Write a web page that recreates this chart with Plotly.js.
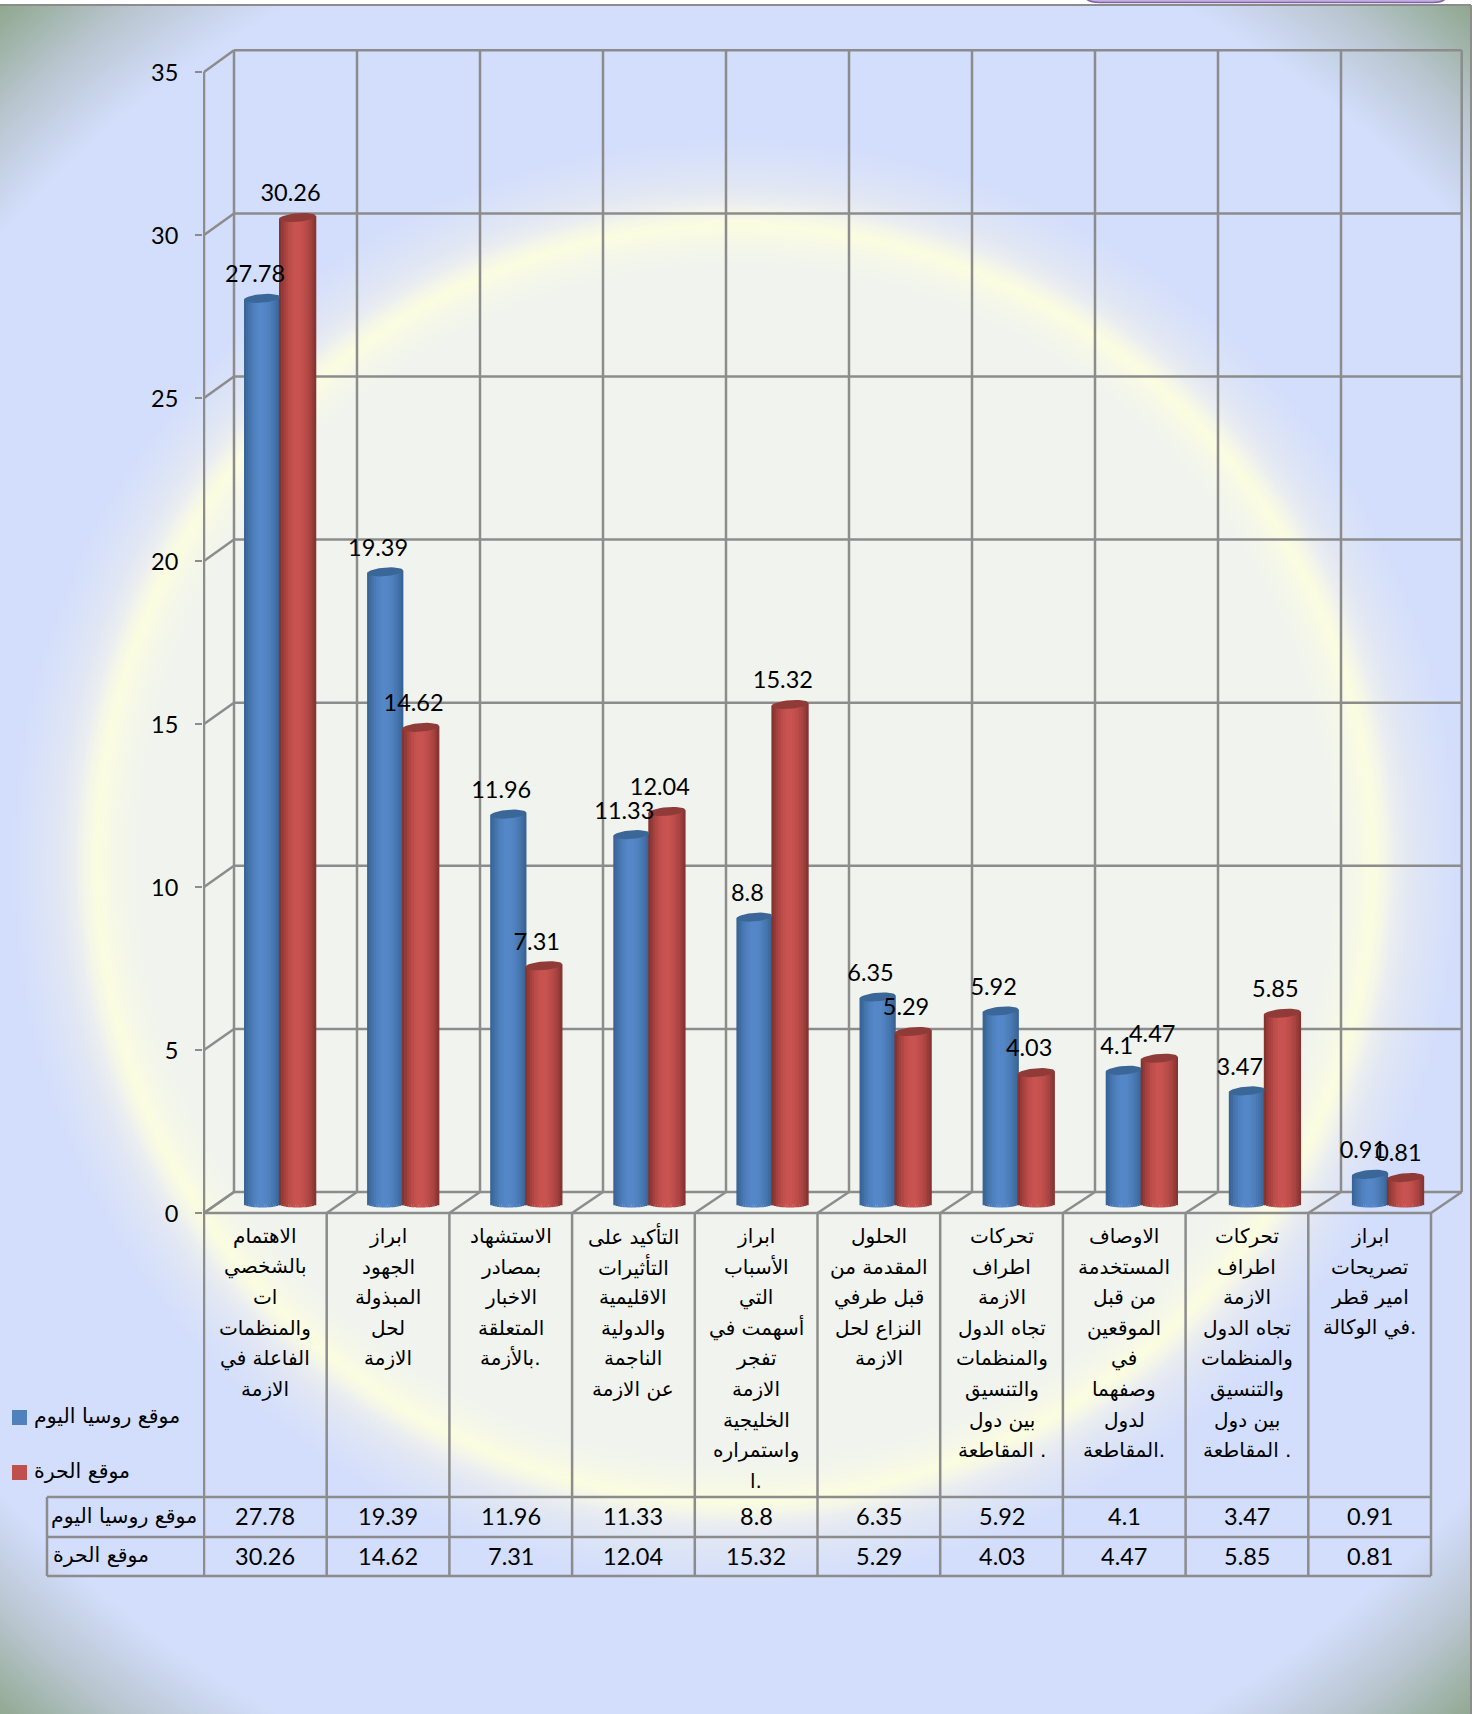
<!DOCTYPE html>
<html><head><meta charset="utf-8">
<script src="https://cdn.plot.ly/plotly-3.0.1.min.js"></script>
<style>
html,body{margin:0;padding:0;background:#fff;width:1472px;height:1714px;overflow:hidden}
#bg{position:absolute;left:0;top:5px;width:1470px;height:1709px;
background:radial-gradient(circle 1135px at 735px 858px,#f1f4ee 0,#f1f4ee 598px,#f5f7e9 620px,#fbfde0 638px,#f4f6e8 650px,#ebeef0 660px,#e2e7f3 675px,#d9e2f8 700px,#d3defc 725px,#d3defc 965px,#b9c6d0 1045px,#8fa78e 1130px)}
#chart{position:absolute;left:0;top:0;width:1472px;height:1714px}
</style></head><body><div id="bg"></div><div id="chart"></div>
<script>
const seriesNames=["موقع روسيا اليوم","موقع الحرة"];
const russiaToday=[27.78,19.39,11.96,11.33,8.8,6.35,5.92,4.1,3.47,0.91];
const alhurra=[30.26,14.62,7.31,12.04,15.32,5.29,4.03,4.47,5.85,0.81];
const categoryLines=[
["الاهتمام","بالشخصي","ات","والمنظمات","الفاعلة في","الازمة"],
["ابراز","الجهود","المبذولة","لحل","الازمة"],
["الاستشهاد","بمصادر","الاخبار","المتعلقة","بالأزمة."],
["التأكيد على","التأثيرات","الاقليمية","والدولية","الناجمة","عن الازمة"],
["ابراز","الأسباب","التي","أسهمت في","تفجر","الازمة","الخليجية","واستمراره","ا."],
["الحلول","المقدمة من","قبل طرفي","النزاع لحل","الازمة"],
["تحركات","اطراف","الازمة","تجاه الدول","والمنظمات","والتنسيق","بين دول","المقاطعة ."],
["الاوصاف","المستخدمة","من قبل","الموقعين","في","وصفهما","لدول","المقاطعة."],
["تحركات","اطراف","الازمة","تجاه الدول","والمنظمات","والتنسيق","بين دول","المقاطعة ."],
["ابراز","تصريحات","امير قطر","في الوكالة."]
];
const yTicks=[0,5,10,15,20,25,30,35];

const W=1472,H=1714,L=203,R=1464,T=48,B=1216;
const stepX=122.7,stepY=32.6,x0=265.35,y0=1213;
const xr=[(L-x0)/stepX,(R-x0)/stepX], yr=[(y0-B)/stepY,(y0-T)/stepY];
const pyP=p=>(B-p)/(B-T), pxP=p=>(p-L)/(R-L);
const idx=russiaToday.map((_,i)=>i);
const GRID='#8c8c8c';

// the perspective planes of the 3D frame, expressed in axis units
const backX=k=>((k<10?234+123*k:1461.7)-x0)/stepX;
const backY=v=>v*32.62/stepY+21/stepY;
const barX=i=>(280+123.1*i-x0)/stepX;
const barDY=9/stepY;

function hex(c){return [1,3,5].map(i=>parseInt(c.substr(i,2),16));}
function shade(st,u){
  const t=(u+1)/2*(st.length-1),i=Math.min(Math.floor(t),st.length-2),f=t-i;
  const a=hex(st[i]),b=hex(st[i+1]);
  return 'rgb('+a.map((v,n)=>Math.round(v+(b[n]-v)*f)).join(',')+')';
}
const specs=[
 {vals:russiaToday,name:seriesNames[0],base:'#4f81bd',cap:'#3a6797',cx:-18/stepX,w:36/stepX,
  stops:['#36608f','#4472a9','#4f80bf','#5488c9','#5587c8','#4e7fbc','#4473aa','#36608f']},
 {vals:alhurra,name:seriesNames[1],base:'#c0504d',cap:'#913b39',cx:17.5/stepX,w:37/stepX,
  stops:['#7c2f2d','#a13f3c','#bc4c49','#c95350','#c85351','#ba4c49','#a5423f','#7f302e']}
];
const N=16,traces=[];
specs.forEach(s=>{
  traces.push({type:'bar',name:s.name,x:idx.map(barX),y:s.vals,base:idx.map(()=>barDY),
    width:s.w*0.96,offset:s.cx-s.w*0.48,marker:{color:s.base,line:{width:0}},
    showlegend:false,hoverinfo:'skip',cliponaxis:false});
});
specs.forEach(s=>{
  for(let j=0;j<N;j++){
    const uL=-1+2*j/N,uR=uL+2/N,u=(uL+uR)/2;
    const curve=Math.sqrt(Math.max(0,1-u*u))*(3.5/stepY);
    const tilt=u*(1.5/stepY);
    traces.push({type:'bar',x:idx.map(barX),
      base:s.vals.map(()=>barDY-curve),
      y:s.vals.map(v=>v+curve+tilt),
      width:(s.w/N)*1.12,offset:s.cx+s.w/2*uL,
      marker:{color:shade(s.stops,u),line:{width:0}},
      showlegend:false,hoverinfo:'skip',cliponaxis:false});
  }
});
specs.forEach(s=>{
  const cx=[],cy=[];
  s.vals.forEach((v,i)=>{
    for(let a=0;a<=36;a++){
      const th=a/36*2*Math.PI,c=Math.cos(th),sn=Math.sin(th);
      cx.push(barX(i)+s.cx+c*s.w/2);
      cy.push(v+barDY+sn*(4.3/stepY)+c*(1.5/stepY));
    }
    cx.push(null);cy.push(null);
  });
  traces.push({type:'scatter',mode:'lines',x:cx,y:cy,fill:'toself',fillcolor:s.cap,line:{width:0,color:s.cap},
    showlegend:false,hoverinfo:'skip'});
});
specs.forEach(s=>{
  traces.push({type:'scatter',mode:'text',x:idx.map(i=>barX(i)+s.cx-7/stepX),
    y:s.vals.map(v=>v+barDY+22/stepY),text:s.vals.map(String),textposition:'middle center',
    textfont:{family:'Lato',size:23.5,color:'#000'},showlegend:false,hoverinfo:'skip',cliponaxis:false});
});

const shapes=[];
const ln=(x0,y0,x1,y1,xref,yref,w)=>shapes.push({type:'line',x0,y0,x1,y1,xref:xref||'x',yref:yref||'y',
  line:{color:GRID,width:w||2.5},layer:'below'});
const eL=-0.5,eR=9.5;
yTicks.forEach(v=>{
  ln(backX(0),backY(v),backX(10),backY(v));
  ln(eL,v,backX(0),backY(v));
});
for(let k=0;k<=10;k++){
  const e=eL+k;
  ln(backX(k),backY(0),backX(k),backY(35));
  ln(e,0,backX(k),backY(0));
  ln(e,pyP(1213),e,pyP(1576),'x','paper');
}
ln(eL,0,eL,35);
ln(eL,0,eR,0);
[1497,1537,1576].forEach(p=>ln(pxP(47),pyP(p),pxP(1431),pyP(p),'paper','paper'));
ln(pxP(47),pyP(1497),pxP(47),pyP(1576),'paper','paper');
// outer frame of the sheet
ln(pxP(0),pyP(5),pxP(1471),pyP(5),'paper','paper',2);
ln(pxP(1471),pyP(5),pxP(1471),pyP(1714),'paper','paper',2);
// purple box cut off at the top of the sheet
const P=(x,y)=>pxP(x)+','+pyP(y);
shapes.push({type:'path',xref:'paper',yref:'paper',
  path:'M'+P(1084,-4)+' Q'+P(1087,2.5)+' '+P(1100,2.5)+' L'+P(1433,2.5)+' Q'+P(1445,2.5)+' '+P(1447,-4)+' Z',
  fillcolor:'#c3aee0',line:{color:'#7f63a8',width:1.5},layer:'above'});
// legend swatches
specs.forEach((s,i)=>{
  const top=[1410,1465][i];
  shapes.push({type:'rect',xref:'paper',yref:'paper',x0:pxP(12),x1:pxP(27),y0:pyP(top),y1:pyP(top+15),
    fillcolor:s.base,line:{width:0},layer:'above'});
});

const ann=[];
const txt=(text,x,p,xref,opt)=>ann.push(Object.assign({text,x,y:pyP(p),xref:xref||'x',yref:'paper',showarrow:false,
  xanchor:'center',yanchor:'middle',font:{family:'DejaVu Sans',size:20,color:'#000'}},opt||{}));
categoryLines.forEach((lines,k)=>lines.forEach((t,r)=>txt(t,k,1236+r*30.6)));
const num={font:{family:'Lato',size:23.5,color:'#000'}};
idx.forEach(k=>{txt(String(russiaToday[k]),k,1516,'x',num);txt(String(alhurra[k]),k,1556,'x',num);});
const big={font:{family:'DejaVu Sans',size:20.5,color:'#000'}};
txt(seriesNames[0],pxP(124),1516,'paper',big);
txt(seriesNames[1],pxP(51),1555,'paper',Object.assign({xanchor:'left'},big));
txt(seriesNames[0],pxP(32),1416,'paper',Object.assign({xanchor:'left'},big));
txt(seriesNames[1],pxP(32),1471,'paper',Object.assign({xanchor:'left'},big));

Plotly.newPlot('chart',traces,{
  width:W,height:H,showlegend:false,barmode:'overlay',
  paper_bgcolor:'rgba(0,0,0,0)',plot_bgcolor:'rgba(0,0,0,0)',
  margin:{l:L,r:W-R,t:T,b:H-B,pad:0,autoexpand:false},
  xaxis:{range:xr,showgrid:false,zeroline:false,showline:false,showticklabels:false,ticks:''},
  yaxis:{range:yr,tickvals:yTicks,ticktext:yTicks.map(String),ticks:'outside',ticklen:7,tickcolor:GRID,tickwidth:2.5,
    showgrid:false,zeroline:false,showline:false,ticklabelstandoff:12,ticklabelshift:1,tickfont:{family:'Lato',size:23.5,color:'#000'}},
  shapes,annotations:ann
},{displayModeBar:false,staticPlot:true});
</script></body></html>
